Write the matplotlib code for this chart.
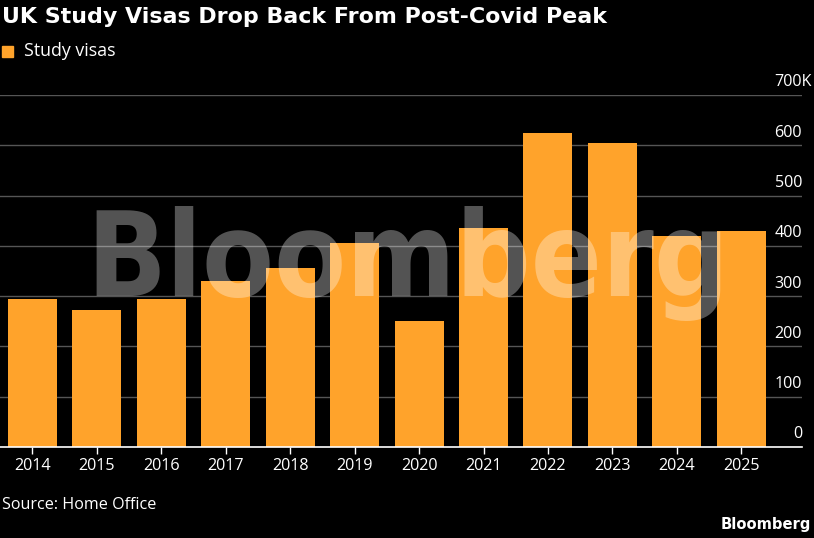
import matplotlib.pyplot as plt
import numpy as np

# data (thousands of study visas)
years = ['2014', '2015', '2016', '2017', '2018', '2019', '2020', '2021', '2022', '2023', '2024', '2025']
visas = [294, 272, 294, 330, 356, 406, 250, 435, 624, 604, 419, 429]
y_ticks = [0, 100, 200, 300, 400, 500, 600, 700]
y_labels = ['0', '100', '200', '300', '400', '500', '600', '700K']

orange = '#FFA32B'
plt.rcParams['font.family'] = ['Open Sans', 'DejaVu Sans']

fig = plt.figure(figsize=(8.14, 5.38), dpi=100, facecolor='black')
ax = fig.add_axes([0.0, 1 - 447 / 538, 802 / 814, (447 - 95) / 538])
ax.set_facecolor('black')

x = np.arange(len(years))
ax.bar(x, visas, width=0.76, color=orange, zorder=2)

ax.set_xlim(-0.5, 11.94)
ax.set_ylim(0, 700)
ax.set_xticks(x)
ax.set_xticklabels(years, color='white', fontsize=11.6)
ax.tick_params(axis='x', length=5, width=1, color='white', pad=3)
ax.set_yticks([])
for t, lab in zip(y_ticks, y_labels):
    ax.axhline(t, color='#555555', lw=1, zorder=1)
    xpos = 1.0 + (10 / 802 if lab.endswith('K') else 0)
    ax.text(xpos, t + 9, lab, transform=ax.get_yaxis_transform(), ha='right', va='bottom',
            color='white', fontsize=11.6, clip_on=False)
for s in ['top', 'left', 'right']:
    ax.spines[s].set_visible(False)
ax.spines['bottom'].set_color('white')
ax.spines['bottom'].set_linewidth(1.2)
ax.spines['bottom'].set_zorder(3)

# watermark
fig.text(86 / 814, 1 - 296 / 538, 'Bloomberg', family='DejaVu Sans', fontweight='bold',
         fontstretch='condensed', fontsize=84, color='white', alpha=0.33,
         ha='left', va='baseline')

fig.text(2 / 814, 1 - 17 / 538, 'UK Study Visas Drop Back From Post-Covid Peak',
         family='DejaVu Sans', weight='bold', fontsize=15.9, color='white', va='center')
fig.patches.append(plt.Rectangle((2 / 814, 1 - 57 / 538), 11 / 814, 11 / 538,
                                 transform=fig.transFigure, color=orange))
fig.text(24 / 814, 1 - 51 / 538, 'Study visas', fontsize=12.8, color='white', va='center')
fig.text(2 / 814, 1 - 505 / 538, 'Source: Home Office', fontsize=11.6, color='white', va='center')
fig.text(811 / 814, 1 - 525 / 538, 'Bloomberg', family='DejaVu Sans', weight='bold',
         fontsize=10.6, color='white', ha='right', va='center')

fig.savefig('out.png', dpi=100, facecolor='black')
